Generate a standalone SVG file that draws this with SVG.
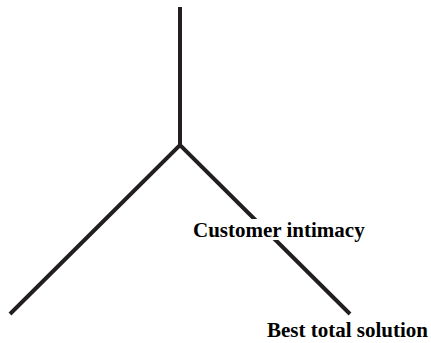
<svg xmlns="http://www.w3.org/2000/svg" width="431" height="343" viewBox="0 0 431 343">
  <style>
    .branch { stroke: #231f20; stroke-width: 4; fill: none; stroke-linecap: butt; }
    .label { font-family: "Liberation Serif", "Times New Roman", serif; font-weight: bold; font-size: 21px; fill: #000; }
  </style>
  <rect width="431" height="343" fill="#fff"/>
  <g id="connectors">
    <line class="branch" x1="180" y1="7" x2="180" y2="145"/>
    <polyline class="branch" points="10,314 180,145 350,314"/>
  </g>
  <g id="customer-intimacy">
    <rect x="192" y="219" width="176" height="21" fill="#fff"/>
    <text class="label" x="193" y="237">Customer intimacy</text>
  </g>
  <g id="best-total-solution">
    <text class="label" x="267" y="337">Best total solution</text>
  </g>
</svg>
